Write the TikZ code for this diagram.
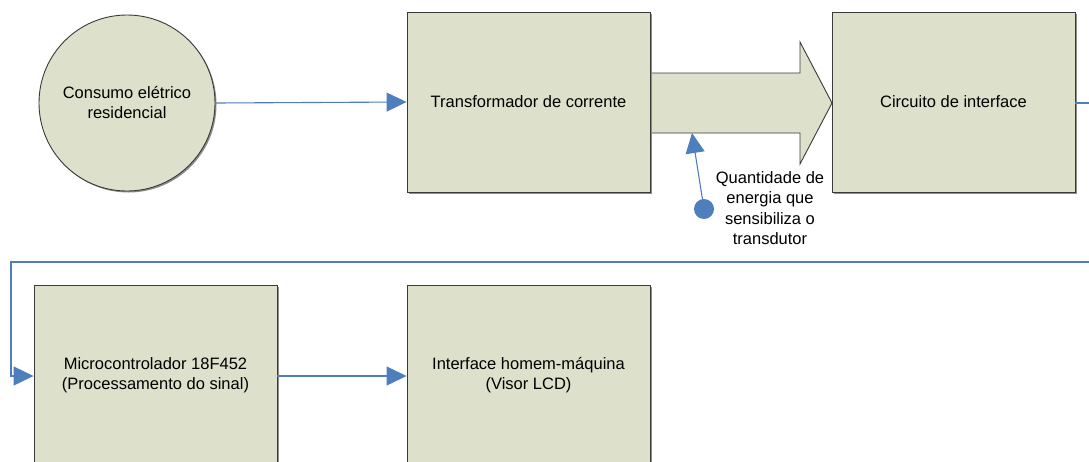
\documentclass[tikz,border=0pt]{standalone}
\usepackage{fontspec}
\setmainfont{Liberation Sans}
\usetikzlibrary{arrows.meta}
\definecolor{boxfill}{HTML}{DDE0CA}
\definecolor{boxline}{HTML}{3A3A3A}
\definecolor{conn}{HTML}{4F7EBD}
\tikzset{
  blk/.style={draw=boxline, fill=boxfill, line width=0.9pt, minimum width=243pt, minimum height=180pt, inner sep=0pt, align=center, font=\fontsize{16.5}{20}\selectfont},
  link/.style={draw=conn, line width=1.1pt, arrows={-Triangle[length=20pt,width=19pt]}},
  lbl/.style={fill=white, align=center, inner sep=1pt, font=\fontsize{16.5}{20.5}\selectfont}
}
\begin{document}
\begin{tikzpicture}[x=1pt,y=-1pt]
\useasboundingbox[fill=white] (0,0) rectangle (1089,461);
% circle
\fill[black!45] (128.5,104.5) circle (88);
\node[circle, draw=boxline, fill=boxfill, line width=0.9pt, minimum size=176pt, inner sep=0pt, align=center, font=\fontsize{16.5}{20}\selectfont] (c) at (127,103) {Consumo elétrico\\residencial};
% block arrow (behind boxes)
\draw[boxline, fill=boxfill, line width=0.9pt] (645,73) -- (800,73) -- (800,42) -- (832,103) -- (800,164) -- (800,133) -- (645,133);
% boxes with shadows
\fill[black!45] (409,14) rectangle (652,194);
\node[blk] (b1) at (528.5,102) {Transformador de corrente};
\node[lbl] (q) at (770,208) {Quantidade de\\energia que\\sensibiliza o\\transdutor};
\fill[black!45] (834,14) rectangle (1077,194);
\node[blk] (b3) at (953.5,102) {Circuito de interface};
\fill[black!45] (36,287) rectangle (279,467);
\node[blk] (b4) at (155.5,375) {Microcontrolador 18F452\\(Processamento do sinal)};
\fill[black!45] (409,287) rectangle (652,467);
\node[blk] (b5) at (528.5,375) {Interface homem-máquina\\(Visor LCD)};
% connectors
\draw[link] (c.east) -- (b1.west);
\coordinate (r1) at (1100,103);
\coordinate (r2) at (1100,262);
\coordinate (l2) at (11,262);
\coordinate (l3) at (11,376);
\draw[link] (b3.east |- 0,103) -- (r1) -- (r2) -- (l2) -- (l3) -- (b4.west |- l3);
\draw[link] (b4.east |- 0,376) -- (b5.west |- 0,376);
% callout
\coordinate (tip) at (692,133);
\fill[conn] (704,209) circle (10) coordinate (dot);
\draw[link] (dot) -- (tip);
\end{tikzpicture}
\end{document}
